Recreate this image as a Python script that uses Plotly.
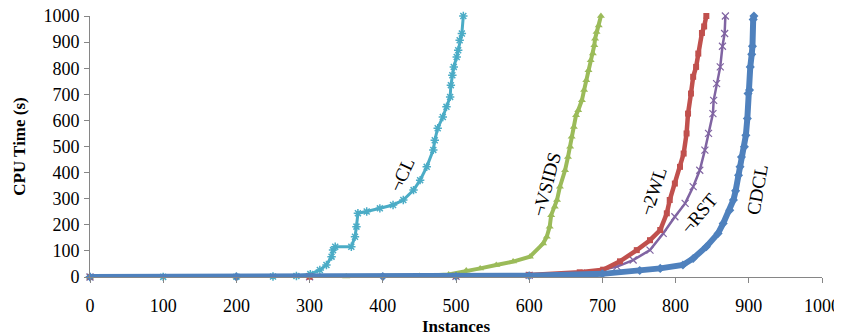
import plotly.graph_objects as go

# ---- data (instances solved vs CPU time) ----
cl_x = [0, 100, 200, 250, 282, 301, 314, 323, 330, 332, 335, 357, 362, 364, 366, 378, 396, 414,
        428, 442, 451, 460, 469, 471, 475, 482, 487, 492, 493, 495, 497, 501, 503, 505, 508, 510]
cl_y = [0, 0.5, 1, 2, 4, 11, 27, 46, 78, 103, 116, 116, 154, 193, 244, 251, 263, 276,
        295, 333, 371, 422, 487, 524, 570, 613, 652, 690, 735, 773, 805, 843, 869, 907, 933, 1000]

vsids_x = [0, 200, 350, 450, 490, 514, 533, 555, 578, 601, 619, 624, 628, 630, 635, 638, 642, 649,
           653, 656, 658, 661, 664, 667, 672, 675, 678, 681, 684, 687, 689, 690, 692, 695, 698]
vsids_y = [0, 0.5, 1.5, 4, 10, 25, 33, 46, 59, 78, 128, 154, 193, 237, 269, 295, 346, 409,
           460, 499, 537, 575, 620, 639, 677, 716, 754, 792, 830, 856, 888, 913, 939, 964, 1000]

twl_x = [0, 300, 500, 600, 669, 701, 724, 747, 765, 779, 788, 792, 799, 806, 811, 815, 817, 821,
         824, 828, 831, 836, 839, 842]
twl_y = [0, 1, 4, 8, 18, 28, 60, 103, 141, 180, 244, 295, 358, 422, 473, 550, 626, 703,
         767, 805, 856, 935, 960, 1000]

rst_x = [0, 300, 500, 600, 680, 720, 742, 765, 783, 799, 813, 824, 833, 840, 845, 851, 852, 856,
         861, 864, 867, 868]
rst_y = [0, 1, 3, 6, 15, 40, 65, 103, 167, 231, 282, 346, 409, 486, 550, 626, 677, 741,
         805, 884, 933, 1000]

cdcl_x = [0, 200, 400, 500, 600, 700, 751, 779, 810, 824, 842, 858, 865, 874, 879, 882, 886, 888,
          890, 894, 896, 898, 899, 901, 902, 904, 905, 906, 907]
cdcl_y = [0, 0.5, 1.5, 3, 5, 12, 25, 33, 46, 71, 116, 167, 205, 256, 295, 330, 390, 422,
          460, 499, 543, 607, 703, 716, 805, 853, 884, 987, 1000]

x_ticks = [0, 100, 200, 300, 400, 500, 600, 700, 800, 900, 1000]
y_ticks = [0, 100, 200, 300, 400, 500, 600, 700, 800, 900, 1000]

FONT = "Liberation Serif, Times New Roman, serif"

fig = go.Figure()

def add(name, xs, ys, color, symbol, size, lw, mline=0):
    fig.add_trace(go.Scatter(
        x=xs, y=ys, name=name, mode="lines+markers",
        line=dict(color=color, width=lw),
        marker=dict(symbol=symbol, size=size, color=color,
                    line=dict(color=color, width=mline)),
        showlegend=False, cliponaxis=False))

add("¬CL", cl_x, cl_y, "#4bacc6", "asterisk", 7, 3, 1.5)
add("¬VSIDS", vsids_x, vsids_y, "#9bbb59", "triangle-up", 7, 4)
add("¬RST", rst_x, rst_y, "#8064a2", "x-thin", 7, 2.5, 1.2)
add("¬2WL", twl_x, twl_y, "#c0504d", "square", 6, 4.5)
add("CDCL", cdcl_x, cdcl_y, "#4f81bd", "diamond", 7, 6)

labels = [
    ("¬CL", 426, 394, -65),
    ("¬VSIDS", 623, 356, -75),
    ("¬2WL", 769, 329, -72),
    ("¬RST", 832, 245, -50),
    ("CDCL", 911, 337, -80),
]
for txt, lx, ly, ang in labels:
    fig.add_annotation(x=lx, y=ly, text=txt, showarrow=False, textangle=ang,
                       font=dict(family=FONT, size=19, color="black"))

axis_common = dict(
    showgrid=False, zeroline=False, showline=True, linecolor="#868686", linewidth=1,
    ticks="outside", ticklen=5, tickcolor="#868686", automargin=False,
    ticklabeloverflow="allow",
    tickfont=dict(family=FONT, size=18, color="black"),
)

fig.update_xaxes(range=[0, 1000], tickvals=x_ticks, ticktext=[str(v) for v in x_ticks],
                 title=dict(text="<b>Instances</b>", font=dict(family=FONT, size=17, color="black"),
                            standoff=6),
                 ticklabelstandoff=7, **axis_common)
fig.update_yaxes(range=[0, 1000], tickvals=y_ticks, ticktext=[str(v) for v in y_ticks],
                 title=dict(text="<b>CPU Time (s)</b>", font=dict(family=FONT, size=17, color="black"),
                            standoff=13),
                 ticklabelstandoff=1, **axis_common)

# the page body has an 8px margin, so the figure is shrunk by 8px and the
# left/top margins reduced so that the plot area lands where it does in the reference
fig.update_layout(
    width=834, height=328,
    margin=dict(l=82, r=20, t=8, b=59),
    paper_bgcolor="white", plot_bgcolor="white",
    font=dict(family=FONT, color="black"),
)

fig.write_html("out.html")
